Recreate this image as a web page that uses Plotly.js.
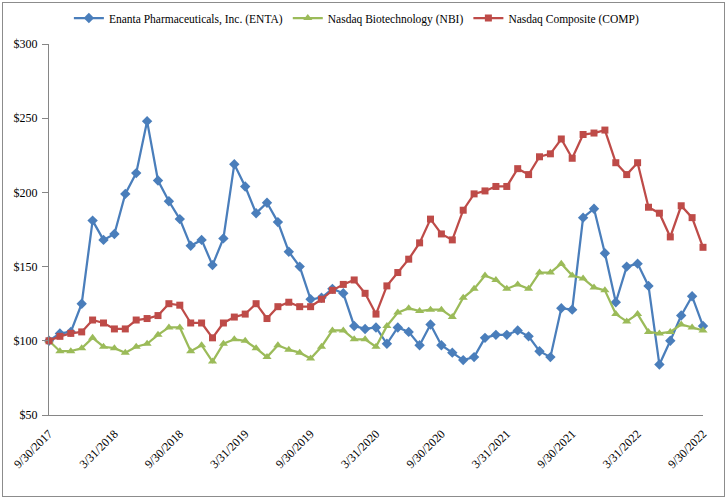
<!DOCTYPE html>
<html>
<head>
<meta charset="utf-8">
<script src="https://cdn.plot.ly/plotly-3.0.1.min.js"></script>
<style>
  html, body { margin: 0; padding: 0; background: #fff; }
  #wrap { position: relative; width: 728px; height: 499px; }
  #chart { width: 728px; height: 499px; }
  #frame { position: absolute; left: 2px; top: 2px; width: 721px; height: 493px;
           border: 1px solid #8c8c8c; pointer-events: none; }
</style>
</head>
<body>
<div id="wrap"><div id="chart"></div><div id="frame"></div></div>
<script>
const dates = [
  "9/30/2017","10/31/2017","11/30/2017","12/31/2017",
  "1/31/2018","2/28/2018","3/31/2018","4/30/2018","5/31/2018","6/30/2018","7/31/2018","8/31/2018","9/30/2018","10/31/2018","11/30/2018","12/31/2018",
  "1/31/2019","2/28/2019","3/31/2019","4/30/2019","5/31/2019","6/30/2019","7/31/2019","8/31/2019","9/30/2019","10/31/2019","11/30/2019","12/31/2019",
  "1/31/2020","2/29/2020","3/31/2020","4/30/2020","5/31/2020","6/30/2020","7/31/2020","8/31/2020","9/30/2020","10/31/2020","11/30/2020","12/31/2020",
  "1/31/2021","2/28/2021","3/31/2021","4/30/2021","5/31/2021","6/30/2021","7/31/2021","8/31/2021","9/30/2021","10/31/2021","11/30/2021","12/31/2021",
  "1/31/2022","2/28/2022","3/31/2022","4/30/2022","5/31/2022","6/30/2022","7/31/2022","8/31/2022","9/30/2022"
];
const tickLabels = ["9/30/2017","3/31/2018","9/30/2018","3/31/2019","9/30/2019","3/31/2020","9/30/2020","3/31/2021","9/30/2021","3/31/2022","9/30/2022"];

const enta = [100,105,106,125,181,168,172,199,213,248,208,194,182,164,168,151,169,219,204,186,193,180,160,150,128,129,135,132,110,108,109,98,109,106,97,111,97,92,87,89,102,104,104,107,103,93,89,122,121,183,189,159,126,150,152,137,84,100,117,130,110];
const nbi  = [100,93,93,95,102,96,95,92,96,98,104,109,109,93,97,86,98,101,100,95,89,97,94,92,88,96,107,107,101,101,96,110,119,122,120,121,121,116,129,135,144,141,135,138,135,146,146,152,144,142,136,134,118,113,118,106,105,106,111,109,107];
const comp = [100,103,105,106,114,112,108,108,114,115,117,125,124,112,112,102,112,116,118,125,115,123,126,123,123,128,134,138,141,132,118,137,146,155,166,182,172,168,188,199,201,204,204,216,212,224,226,236,223,239,240,242,220,212,220,190,186,170,191,183,163];

const seriesNames = ["Enanta Pharmaceuticals, Inc. (ENTA)", "Nasdaq Biotechnology (NBI)", "Nasdaq Composite (COMP)"];
const colors = ["#4a7ebb", "#9bbb59", "#be4b48"];
const symbols = ["diamond", "triangle-up", "square"];
const values = [enta, nbi, comp];

const traces = values.map((v, k) => ({
  x: dates, y: v, type: "scatter", mode: "lines+markers", name: seriesNames[k],
  line: { color: colors[k], width: 2.25 },
  marker: { color: colors[k], symbol: symbols[k], size: k === 2 ? 7 : 8 },
  cliponaxis: false
}));

const font = { family: "Liberation Serif, Times New Roman, serif", size: 12, color: "#000" };
const legendFont = { family: "Liberation Serif, Times New Roman, serif", size: 11.5, color: "#000" };

const layout = {
  width: 728, height: 499,
  margin: { l: 49, r: 25, t: 44, b: 84, autoexpand: false },
  paper_bgcolor: "#fff", plot_bgcolor: "#fff",
  font: font,
  showlegend: true,
  legend: { orientation: "h", x: 0.47, xanchor: "center", y: 1.07, yanchor: "middle",
            font: legendFont, itemwidth: 30, tracegroupgap: 0 },
  xaxis: {
    type: "category", range: [0, 60],
    tickmode: "array", tickvals: tickLabels, ticktext: tickLabels,
    tickangle: -45, showline: true, linecolor: "#868686", linewidth: 1,
    ticks: "", ticklabelstandoff: 6, showgrid: false, zeroline: false, tickfont: font
  },
  yaxis: {
    range: [50, 300], dtick: 50, tick0: 50, tickprefix: "$",
    showline: true, linecolor: "#868686", linewidth: 1,
    ticks: "outside", ticklen: 6, tickcolor: "#868686", ticklabelstandoff: 2,
    showgrid: false, zeroline: false, tickfont: font
  }
};

Plotly.newPlot("chart", traces, layout, { displayModeBar: false, staticPlot: true });
</script>
</body>
</html>
